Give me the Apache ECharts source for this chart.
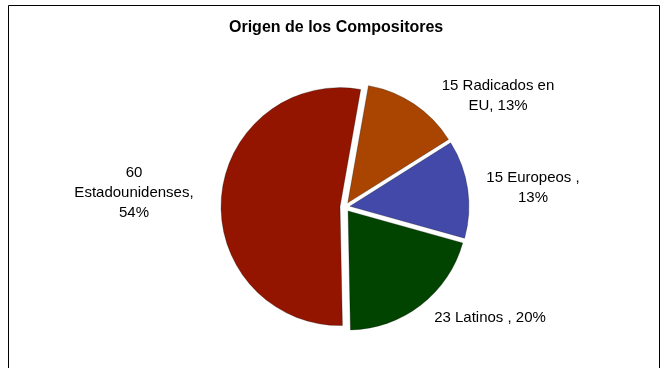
<!DOCTYPE html>
<html>
<head>
<meta charset="utf-8">
<script src="https://cdn.jsdelivr.net/npm/echarts@6/dist/echarts.min.js"></script>
<style>
  html, body { margin: 0; padding: 0; background: #ffffff; }
  #chart { width: 668px; height: 368px; }
</style>
</head>
<body>
<div id="chart"></div>
<script>
// Composer origins: counts and the rounded shares printed on the labels
const categories = ['Radicados en EU', 'Europeos', 'Latinos', 'Estadounidenses'];
const counts = [15, 15, 23, 60];
const shares = [13, 13, 20, 54];

// Slice colours, same order as the categories
const sliceColors = ['#A94500', '#4349A9', '#004400', '#931500'];

// Label texts, wrapped the way they are printed
const labelTexts = [
  counts[0] + ' Radicados en\nEU, ' + shares[0] + '%',
  counts[1] + ' Europeos ,\n' + shares[1] + '%',
  counts[2] + ' Latinos , ' + shares[2] + '%',
  counts[3] + '\nEstadounidenses,\n' + shares[3] + '%'
];

// Centre point of each label block (px)
const labelAnchors = [[498, 96], [533, 188], [490, 318], [134, 193]];

const FONT = 'Liberation Sans, Arial, sans-serif';

const chart = echarts.init(document.getElementById('chart'), null, { renderer: 'canvas' });

const labelGraphics = labelTexts.map((t, i) => ({
  type: 'text',
  silent: true,
  x: labelAnchors[i][0],
  y: labelAnchors[i][1],
  style: {
    text: t,
    align: 'center',
    verticalAlign: 'middle',
    fontFamily: FONT,
    fontSize: 15,
    lineHeight: 20,
    fill: '#000000'
  }
}));

chart.setOption({
  animation: false,
  backgroundColor: '#ffffff',
  title: {
    text: 'Origen de los Compositores',
    left: 229,
    top: 20,
    padding: 0,
    textStyle: {
      fontFamily: FONT,
      fontSize: 16,
      fontWeight: 'bold',
      color: '#000000'
    }
  },
  graphic: [{
    type: 'rect',
    silent: true,
    shape: { x: 8.5, y: 5.5, width: 651, height: 420 },
    style: { fill: 'none', stroke: '#000000', lineWidth: 1 }
  }].concat(labelGraphics),
  series: [{
    type: 'pie',
    center: [345, 207],
    radius: 119,
    startAngle: 80,
    clockwise: true,
    selectedMode: 'multiple',
    selectedOffset: 5,
    avoidLabelOverlap: false,
    emphasis: { disabled: true },
    itemStyle: {
      borderColor: 'rgba(0,0,0,0.45)',
      borderWidth: 0.6
    },
    label: { show: false },
    labelLine: { show: false },
    data: categories.map((name, i) => ({
      name: name,
      value: counts[i],
      selected: true,
      itemStyle: { color: sliceColors[i] }
    }))
  }]
});
</script>
</body>
</html>
